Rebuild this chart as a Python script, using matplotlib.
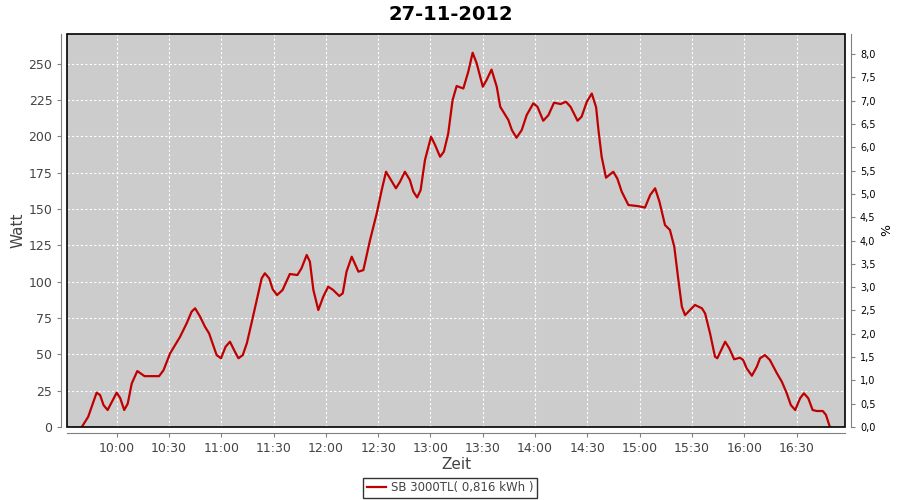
import matplotlib
matplotlib.use("Agg")
import matplotlib.pyplot as plt
import matplotlib.dates as mdates
import pandas as pd
from matplotlib.patches import Rectangle
from matplotlib.ticker import FixedLocator, FuncFormatter

# =============================================================================
# data

day = "2012-11-27"
times = [
    "09:40:00", "09:43:40", "09:48:30", "09:50:30", "09:52:30", "09:54:50",
    "10:00:00", "10:02:00", "10:04:20", "10:06:20", "10:08:40", "10:11:50",
    "10:16:00", "10:20:00", "10:24:20", "10:26:50", "10:30:40", "10:36:20",
    "10:40:10", "10:43:00", "10:45:00", "10:47:50", "10:50:40", "10:53:00",
    "10:57:20", "10:59:50", "11:02:30", "11:05:00", "11:07:20", "11:09:50",
    "11:12:20", "11:14:40", "11:17:20", "11:20:20", "11:23:10", "11:25:00",
    "11:27:30", "11:29:30", "11:32:00", "11:35:10", "11:39:20", "11:43:40",
    "11:46:00", "11:49:00", "11:50:50", "11:52:50", "11:55:40", "11:58:30",
    "12:01:20", "12:04:10", "12:07:40", "12:09:40", "12:11:50", "12:14:50",
    "12:18:40", "12:21:30", "12:25:20", "12:29:10", "12:32:00", "12:34:30",
    "12:36:50", "12:40:10", "12:42:30", "12:45:20", "12:48:10", "12:50:10",
    "12:52:20", "12:54:20", "12:56:50", "13:00:20", "13:02:40", "13:05:30",
    "13:07:40", "13:10:10", "13:12:40", "13:15:00", "13:18:50", "13:21:40",
    "13:24:10", "13:26:30", "13:30:00", "13:32:10", "13:35:00", "13:38:00",
    "13:40:00", "13:44:40", "13:46:40", "13:49:20", "13:52:20", "13:55:10",
    "13:59:00", "14:01:20", "14:04:40", "14:07:40", "14:10:50", "14:14:40",
    "14:17:40", "14:20:20", "14:24:20", "14:26:40", "14:29:40", "14:32:30",
    "14:35:00", "14:36:20", "14:38:10", "14:40:40", "14:44:50", "14:47:10",
    "14:49:40", "14:53:30", "14:59:10", "15:03:00", "15:06:00", "15:08:50",
    "15:11:20", "15:14:30", "15:17:20", "15:19:50", "15:22:10", "15:24:10",
    "15:26:00", "15:28:50", "15:31:40", "15:35:40", "15:37:30", "15:40:20",
    "15:43:10", "15:44:30", "15:49:00", "15:51:20", "15:54:10", "15:57:30",
    "15:59:20", "16:01:20", "16:04:20", "16:07:10", "16:09:00", "16:11:50",
    "16:14:40", "16:18:40", "16:21:30", "16:24:20", "16:26:40", "16:29:10",
    "16:32:00", "16:34:10", "16:36:40", "16:39:10", "16:41:30", "16:45:00",
    "16:46:50", "16:49:00",
]
watt = [
    0, 7, 23.6, 22, 15, 11.7,
    23.6, 20, 11.7, 16, 30, 38.5,
    35, 35, 35, 39, 50.7, 62,
    71.4, 79.4, 81.7, 76, 69, 64.5,
    49.5, 47.3, 55.3, 58.7, 53, 47.3,
    49.5, 57.6, 71.4, 87.4, 102.3, 105.8,
    102.3, 94.8, 90.8, 94.3, 105.3, 104.6,
    109.2, 118.4, 113.8, 94.3, 80.5, 89.7,
    96.6, 94.3, 90.2, 92, 106.9, 117.2,
    106.9, 108, 128.7, 147, 163, 175.7,
    171, 164.3, 168.8, 175.7, 170, 162,
    158, 163, 183.8, 199.8, 194, 186,
    189.5, 202, 225, 234.7, 233, 244.5,
    257.6, 250.3, 234.2, 238.8, 246, 234.2,
    220.4, 211.3, 204.4, 199.1, 204.4, 214.7,
    222.8, 220.4, 210.8, 214.7, 223.2, 222.3,
    223.9, 220.4, 210.8, 213.6, 223.9, 229.5,
    220, 204.4, 186, 171.6, 175.7, 171,
    162, 152.8, 152, 151, 159.7, 164.3,
    155, 139, 135.6, 124, 101.2, 82.8,
    77, 80.5, 84, 81.7, 78.2, 64.5,
    48.4, 47.3, 58.7, 54.2, 46.6, 47.7,
    46.1, 40.4, 35.3, 41.5, 47.3, 49.5,
    46.1, 37, 31.2, 23.2, 15.1, 11.7,
    19.8, 23.2, 19.8, 11.7, 11, 11,
    8.3, 0.2,
]
series_label = "SB 3000TL( 0,816 kWh )"
title = "27-11-2012"

# =============================================================================

x = pd.to_datetime([f"{day} {t}" for t in times])

fig = plt.figure(figsize=(9, 5), dpi=100)
ax = fig.add_axes([0.0744, 0.146, 0.8650, 0.786])
ax.set_facecolor("#cccccc")

ax.plot(x, watt, color="#c00000", linewidth=1.6, label=series_label, zorder=3)

ax.set_xlim(pd.Timestamp(f"{day} 09:31:30"), pd.Timestamp(f"{day} 16:58:00"))
ax.set_ylim(0, 270.5)
ax.yaxis.set_major_locator(FixedLocator(list(range(0, 275, 25))))
ax.xaxis.set_major_locator(mdates.MinuteLocator(byminute=[0, 30]))
ax.xaxis.set_major_formatter(mdates.DateFormatter("%H:%M"))

ax.grid(True, color="white", linestyle=(0, (2, 2)), linewidth=0.8)
ax.set_axisbelow(True)

axis_gray = "#808080"
text_gray = "#444444"
for side in ["top", "right"]:
    ax.spines[side].set_visible(False)
for side in ["left", "bottom"]:
    ax.spines[side].set_position(("outward", 4))
    ax.spines[side].set_color(axis_gray)
ax.tick_params(colors=axis_gray, labelcolor=text_gray, labelsize=9, length=3)

ax.set_xlabel("Zeit", fontsize=11, color=text_gray, labelpad=2)
ax.set_ylabel("Watt", fontsize=11, color=text_gray, labelpad=2)

# black plot frame
ax.add_patch(Rectangle((0, 0), 1, 1, transform=ax.transAxes, fill=False,
                       edgecolor="black", linewidth=1.2, zorder=5, clip_on=False))

# right percent axis
ax2 = ax.twinx()
ax2.set_ylim(0, 8.43)
ax2.yaxis.set_major_locator(FixedLocator([i * 0.5 for i in range(17)]))
ax2.yaxis.set_major_formatter(FuncFormatter(lambda v, p: f"{v:.1f}".replace(".", ",")))
for side in ["top", "left", "bottom"]:
    ax2.spines[side].set_visible(False)
ax2.spines["right"].set_position(("outward", 4))
ax2.spines["right"].set_color(axis_gray)
ax2.tick_params(colors=axis_gray, labelcolor="black", labelsize=7, length=3)
ax2.set_ylabel("%", fontsize=9, color="black", labelpad=3)

fig.suptitle(title, fontsize=14, fontweight="bold", x=0.501, y=0.99)

handles, labels = ax.get_legend_handles_labels()
fig.legend(handles, labels, loc="center", bbox_to_anchor=(0.5, 0.024),
           frameon=True, fancybox=False, edgecolor="black", fontsize=8.5,
           handlelength=1.6, handletextpad=0.4, borderpad=0.3,
           labelcolor=text_gray).get_frame().set_linewidth(1.0)

plt.savefig("out.png", dpi=100)
plt.close()
